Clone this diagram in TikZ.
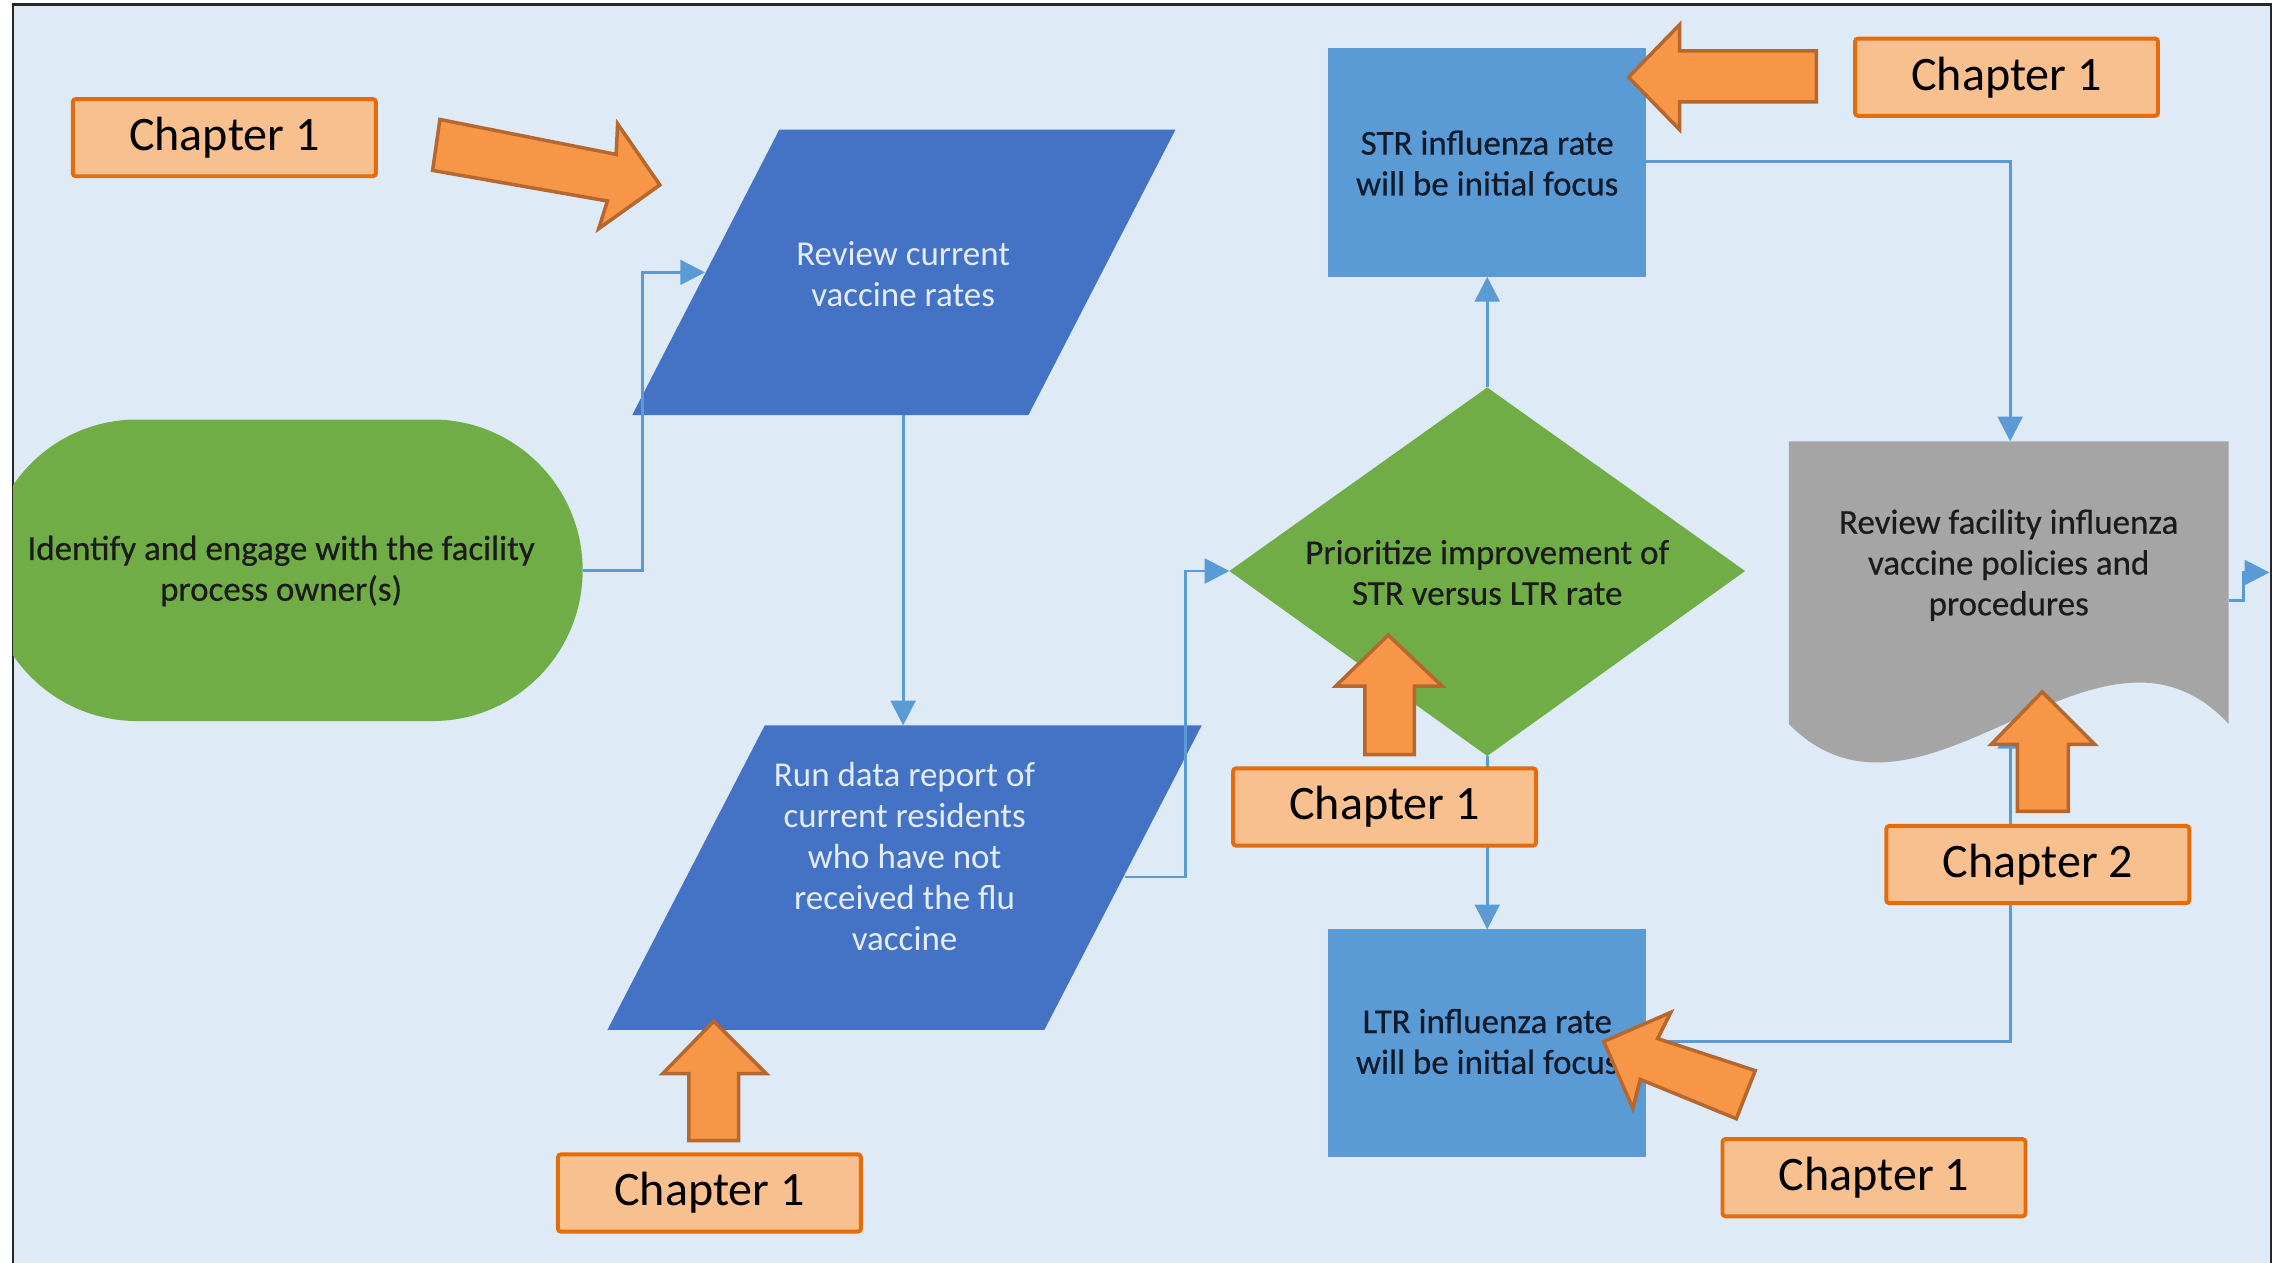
\documentclass[tikz,border=0pt]{standalone}
\usepackage{fontspec}
\setmainfont{Carlito}
\newfontfamily\heavyish[FakeBold=0.5]{Carlito}
\usetikzlibrary{arrows.meta}
\definecolor{bgblue}{HTML}{DEEBF7}
\definecolor{parblue}{HTML}{4472C4}
\definecolor{boxblue}{HTML}{5B9BD5}
\definecolor{termgreen}{HTML}{70AD47}
\definecolor{docgray}{HTML}{A5A5A5}
\definecolor{linkblue}{HTML}{5B9BD5}
\definecolor{tagfill}{HTML}{F9C08F}
\definecolor{tagedge}{HTML}{E46C0A}
\definecolor{arrfill}{HTML}{F79646}
\definecolor{arredge}{HTML}{B5672D}
\definecolor{lighttext}{HTML}{E4ECF7}
\definecolor{darktext}{HTML}{1B1B1B}
\definecolor{navytext}{HTML}{0F1A2A}
\begin{document}
\begin{tikzpicture}[x=1pt,y=-1pt,
  ftext/.style={align=center,font=\fontsize{24}{28}\selectfont,inner sep=0pt},
  dtext/.style={ftext,font=\heavyish\fontsize{24}{28}\selectfont},
  conn/.style={draw=linkblue,line width=1.9pt,-{Triangle[length=17pt,width=17pt]}},
  tag/.style={draw=tagedge,fill=tagfill,line width=2.7pt,rounded corners=2pt,
    minimum width=208pt,minimum height=53pt,inner sep=0pt,
    font=\fontsize{33}{36}\selectfont},
  blockarrow/.style={fill=arrfill,draw=arredge,line width=2.4pt,line join=miter}]

% page and framed panel
\useasboundingbox (0,0) rectangle (1568,867);
\fill[white] (0,0) rectangle (1568,867);
\fill[bgblue] (9,3) rectangle (1559,867);
\draw[black!85,line width=1.6pt] (9,867) -- (9,3) -- (1559,3) -- (1559,867);

% start terminator, cut by the panel edge
\begin{scope}
  \clip (9,3) rectangle (1559,867);
  \fill[termgreen] (94,288) -- (297,288)
    arc[start angle=-90,end angle=90,x radius=103,y radius=103.5]
    -- (94,495)
    arc[start angle=90,end angle=270,x radius=103,y radius=103.5] -- cycle;
\end{scope}
\node[dtext,text=darktext] (term) at (193,392)
  {Identify and engage with the facility\\process owner(s)};

% data steps
\fill[parblue] (535,89) -- (807,89) -- (706,285) -- (434,285) -- cycle;
\node[ftext,text=lighttext] (rev) at (620,188) {Review current\\vaccine rates};

\fill[parblue] (525,498) -- (825,498) -- (717,707) -- (417,707) -- cycle;
\node[ftext,text=lighttext] (run) at (621,588)
  {Run data report of\\current residents\\who have not\\received the flu\\vaccine};

% decision
\fill[termgreen] (1021,266) -- (1198,392) -- (1021,519) -- (844,392) -- cycle;
\node[dtext,text=darktext] (prio) at (1021,393)
  {Prioritize improvement of\\STR versus LTR rate};

% focus boxes
\fill[boxblue] (912,33) rectangle (1130,190);
\node[dtext,text=navytext] (str) at (1021,112) {STR influenza rate\\will be initial focus};
\fill[boxblue] (912,638) rectangle (1130,794);
\node[dtext,text=navytext] (ltr) at (1021,715) {LTR influenza rate\\will be initial focus};

% document
\fill[docgray] (1228,303) -- (1530,303) -- (1530,497)
  .. controls (1440,400) and (1320,590) .. (1228,497) -- cycle;
\node[dtext,text=darktext] (doc) at (1379,388)
  {Review facility influenza\\vaccine policies and\\procedures};

% connector ends
\coordinate (term-out) at (400,391.5);
\coordinate (rev-in) at (484,187);
\coordinate (rev-out) at (620,285);
\coordinate (run-in) at (620,498);
\coordinate (run-out) at (772,602);
\coordinate (prio-in) at (844,392);
\coordinate (prio-up) at (1021,266);
\coordinate (prio-down) at (1021,519);
\coordinate (str-in) at (1021,190);
\coordinate (str-out) at (1130,111);
\coordinate (ltr-in) at (1021,638);
\coordinate (ltr-out) at (1130,715);
\coordinate (doc-top) at (1380,303);
\coordinate (doc-bottom) at (1380,497);
\coordinate (doc-out) at (1530,412);
\coordinate (next) at (1558,393);

% connectors
\draw[conn] (term-out) -- (441,391.5) |- (rev-in);
\draw[conn] (rev-out) -- (run-in);
\draw[conn] (run-out) -- (814,602) |- (prio-in);
\draw[conn] (prio-up) -- (str-in);
\draw[conn] (prio-down) -- (ltr-in);
\draw[conn] (str-out) -| (doc-top);
\draw[conn] (ltr-out) -| (doc-bottom);
\draw[conn] (doc-out) -- (1540,412) |- (next);

% block arrows
\draw[blockarrow] (302,82) -- (423,106) -- (424,85) -- (453,127) -- (411,157) -- (417,138) -- (297,117) -- cycle;
\draw[blockarrow] (1118,53) -- (1153,17) -- (1153,35) -- (1247,35) -- (1247,70) -- (1153,70) -- (1153,89) -- cycle;
\draw[blockarrow] (953,436) -- (990,471) -- (971,471) -- (971,518) -- (937,518) -- (937,471) -- (917,471) -- cycle;
\draw[blockarrow] (1402,475) -- (1438,511) -- (1420,511) -- (1420,557) -- (1385,557) -- (1385,511) -- (1367,511) -- cycle;
\draw[blockarrow] (490,701) -- (526,737) -- (507,737) -- (507,783) -- (473,783) -- (473,737) -- (455,737) -- cycle;
\draw[blockarrow] (1101,715) -- (1147,695) -- (1138,713) -- (1205,735) -- (1192,768) -- (1126,741) -- (1121,761) -- cycle;

% chapter tags
\node[tag] (tagA) at (154,94.5) {Chapter 1};
\node[tag] (tagB) at (1377.5,53) {Chapter 1};
\node[tag] (tagC) at (950.5,554) {Chapter 1};
\node[tag] (tagD) at (1399,593.5) {Chapter 2};
\node[tag] (tagE) at (1286.5,808.5) {Chapter 1};
\node[tag] (tagF) at (487,819) {Chapter 1};
\end{tikzpicture}
\end{document}
